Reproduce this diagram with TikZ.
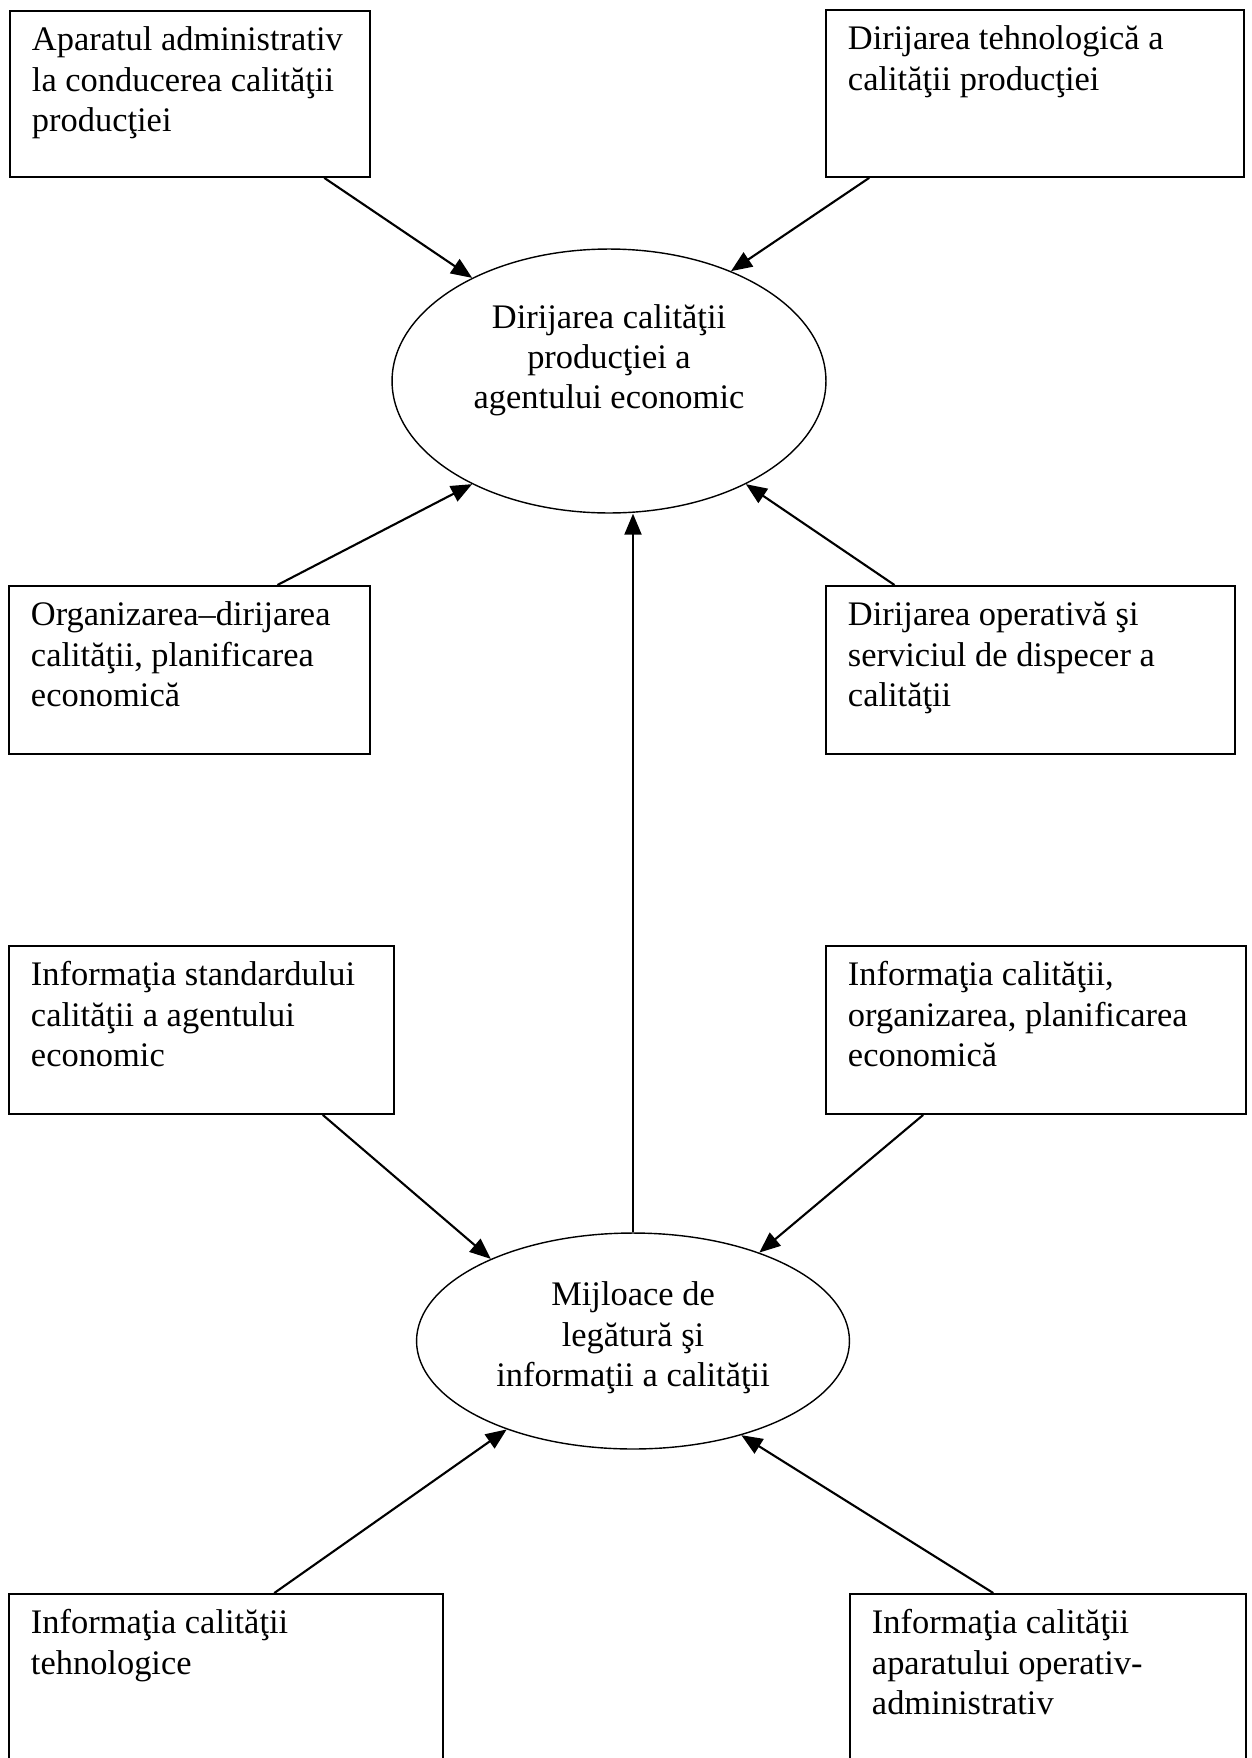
\documentclass[tikz,border=0pt]{standalone}
\usepackage{fontspec}
\setmainfont{Liberation Serif}
\usetikzlibrary{arrows.meta}
\usetikzlibrary{shapes.geometric}
\tikzset{box/.style={draw,line width=1.1pt,anchor=north west,inner sep=0pt}}
\tikzset{oval/.style={draw,ellipse,line width=0.8pt,inner sep=0pt}}
\newcommand{\boxtext}[3]{\parbox[t][#2][t]{#1}{\raggedright\leftskip=0.44cm\rule{0pt}{0.8cm}#3}}
\newcommand{\ovaltext}[2]{\raisebox{#1}[\height][\depth]{\begin{tabular}{@{}c@{}}#2\end{tabular}}}

\begin{document}
\begin{tikzpicture}[x=0.02cm,y=-0.02cm,font=\fontsize{19.6}{22.8}\selectfont,
		flux/.style={-{Triangle[length=0.42cm,width=0.34cm]},line width=1.2pt}]
	\useasboundingbox (0,0) rectangle (1251,1758);
	\clip (0,0) rectangle (1251,1758);

	% casetele de sus
	\node[box] (admin) at (9,10)
		{\boxtext{7.2cm}{3.32cm}{Aparatul administrativ\\la conducerea calităţii\\producţiei}};
	\node[box] (tehno) at (825,9)
		{\boxtext{8.36cm}{3.34cm}{Dirijarea tehnologică a\\calităţii producţiei}};

	\node[oval,minimum width=8.68cm,minimum height=5.28cm] (dirijarea) at (609,381)
		{\ovaltext{0.41cm}{Dirijarea calităţii\\producţiei a\\agentului economic}};

	\node[box] (organiz) at (8,585)
		{\boxtext{7.22cm}{3.36cm}{Organizarea--dirijarea\\calităţii, planificarea\\economică}};
	\node[box] (operativ) at (825,585)
		{\boxtext{8.18cm}{3.36cm}{Dirijarea operativă şi\\serviciul de dispecer a\\calităţii}};

	% informatia
	\node[box] (standard) at (8,945)
		{\boxtext{7.7cm}{3.36cm}{Informaţia standardului\\calităţii a agentului\\economic}};
	\node[box] (infoorg) at (825,945)
		{\boxtext{8.4cm}{3.36cm}{Informaţia calităţii,\\organizarea, planificarea\\economică}};

	\node[oval,minimum width=8.66cm,minimum height=4.32cm] (mijloace) at (633,1341)
		{\ovaltext{0.06cm}{Mijloace de\\legătură şi\\informaţii a calităţii}};

	\node[box] (infotehno) at (8,1593)
		{\boxtext{8.68cm}{3.6cm}{Informaţia calităţii\\tehnologice}};
	\node[box] (infoadmin) at (849,1593)
		{\boxtext{7.92cm}{3.6cm}{Informaţia calităţii\\aparatului operativ-\\administrativ}};

	\draw[flux] (admin.-32) -- (dirijarea.143);
	\draw[flux] (tehno.-153) -- (dirijarea.42);
	\draw[flux] (organiz.44) -- (dirijarea.-143);
	\draw[flux] (operativ.148) -- (dirijarea.-37);
	\draw[flux] (mijloace.north) -- (mijloace.north |- dirijarea.south);

	\draw[flux] (standard.-35) -- (mijloace.150);
	\draw[flux] (infoorg.-143) -- (mijloace.35);
	\draw[flux] (infotehno.62) -- (mijloace.-145);
	\draw[flux] (infoadmin.121) -- (mijloace.-41);
\end{tikzpicture}
\end{document}
